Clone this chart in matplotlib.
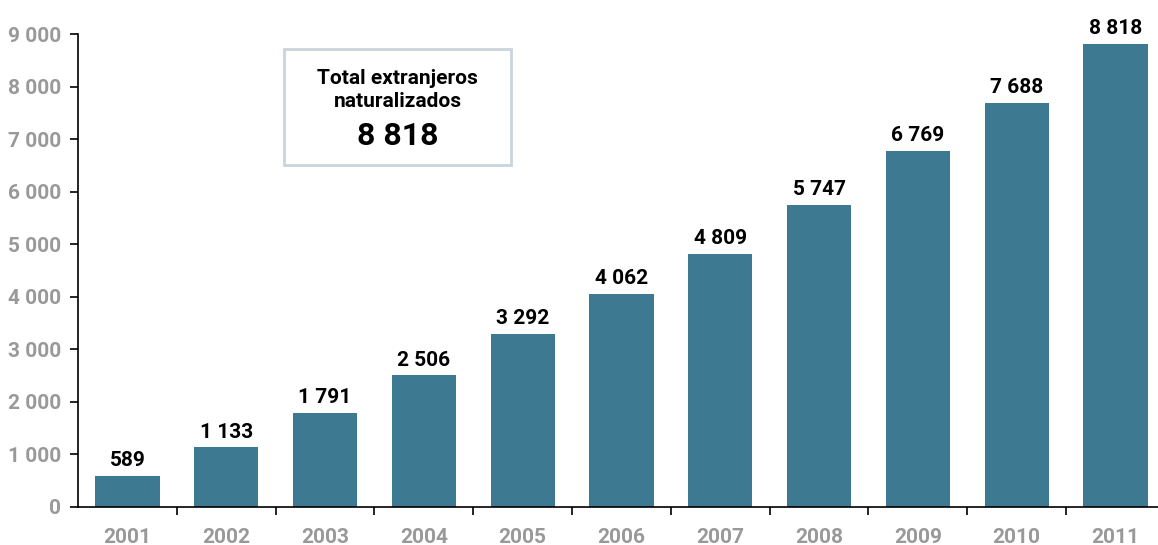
import matplotlib
matplotlib.use("Agg")
import matplotlib.pyplot as plt
from matplotlib.patches import Rectangle

years = ["2001", "2002", "2003", "2004", "2005", "2006", "2007", "2008", "2009", "2010", "2011"]
values = [589, 1133, 1791, 2506, 3292, 4062, 4809, 5747, 6769, 7688, 8818]
yticks = [0, 1000, 2000, 3000, 4000, 5000, 6000, 7000, 8000, 9000]
box_title = "Total extranjeros\nnaturalizados"
box_total = "8 818"

def fmt(v):
    return f"{v:,}".replace(",", " ")

plt.rcParams['font.family'] = ['Roboto', 'DejaVu Sans']

fig = plt.figure(figsize=(11.58, 5.45), dpi=100)
ax = fig.add_axes([78/1158, 38/545, 1 - 78/1158, (507-34)/545])

x = list(range(len(years)))
ax.bar(x, values, width=0.65, color="#3d7a91", zorder=2)

for xi, v in zip(x, values):
    ax.text(xi, v + 110, fmt(v), ha="center", va="bottom", fontsize=15,
            fontweight="bold", color="black")

ax.set_ylim(0, 9000)
ax.set_xlim(-0.5, 10.43)
ax.set_yticks(yticks)
ax.set_yticklabels([fmt(t) for t in yticks], fontsize=15, fontweight="bold", color="#999999")

# x tick marks at category boundaries, labels at centers
ax.set_xticks([i + 0.5 for i in range(len(years) - 1)])
ax.set_xticklabels([])
ax.set_xticks(x, minor=True)
ax.set_xticklabels(years, minor=True, fontsize=15, fontweight="bold", color="#999999")
ax.tick_params(axis="x", which="major", length=6, width=1.2, direction="out", color="black")
ax.tick_params(axis="x", which="minor", length=0, pad=15)
ax.tick_params(axis="y", length=6, width=1.2, direction="out", pad=6, color="black")

for s in ["top", "right"]:
    ax.spines[s].set_visible(False)
ax.spines["left"].set_linewidth(1.2)
ax.spines["bottom"].set_linewidth(1.2)

# summary box
box = Rectangle((284/1158, (545-165)/545), (511-284)/1158, (165-49)/545,
                transform=fig.transFigure, fill=False, edgecolor="#c9d4db", linewidth=2)
fig.patches.append(box)
cx = (284 + 511) / 2 / 1158
fig.text(cx, (545-90)/545, box_title, ha="center", va="center", fontsize=15,
         fontweight="bold", color="black", linespacing=1.3)
fig.text(cx, (545-136)/545, box_total, ha="center", va="center", fontsize=23,
         fontweight="bold", color="black")

fig.savefig("out.png", dpi=100)
